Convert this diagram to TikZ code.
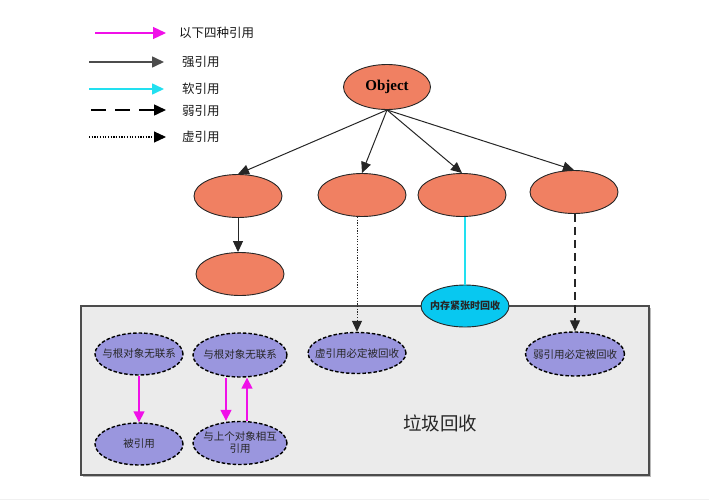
\documentclass[tikz,border=0pt]{standalone}
\usepackage{fontspec}
\setmainfont{Liberation Serif}
\newfontfamily\cjk{Noto Sans CJK SC}
\usetikzlibrary{shapes.geometric,arrows.meta}
\definecolor{orangefill}{HTML}{F08062}
\definecolor{purpfill}{HTML}{9A96DE}
\definecolor{cyanfill}{HTML}{08C8F0}
\definecolor{cyanline}{HTML}{22E0F0}
\definecolor{magline}{HTML}{F010E8}
\definecolor{boxfill}{HTML}{EBEBEB}
\begin{document}
\begin{tikzpicture}[x=1pt,y=-1pt,
  orangeell/.style={ellipse, draw=black!85, fill=orangefill, minimum width=88pt, minimum height=43pt, inner sep=0pt, line width=0.9pt},
  purpell/.style={ellipse, draw=black, dash pattern=on 3.5pt off 2pt, fill=purpfill, line width=1.4pt, minimum width=88pt, minimum height=42pt, inner sep=-15pt, align=center, font=\cjk\fontsize{10.5}{12}\selectfont, text=black!85},
  blackarr/.style={-{Triangle[length=11pt,width=10pt]}, line width=1pt, draw=black!85},
  magarr/.style={-{Triangle[length=11pt,width=11pt]}, line width=1.5pt, draw=magline, color=magline},
  legtext/.style={anchor=west, font=\cjk\fontsize{12.5}{14}\selectfont, text=black!90, inner sep=0pt}
]
\useasboundingbox (0,0) rectangle (709,501);
\draw[gray!12, line width=0.8pt] (0,499) -- (709,499);

% legend
\coordinate (l1a) at (95,33);  \coordinate (l1b) at (166,33);
\coordinate (l2a) at (89,62);  \coordinate (l2b) at (164,62);
\coordinate (l3a) at (89,89);  \coordinate (l3b) at (164,89);
\coordinate (l4a) at (91,110); \coordinate (l4b) at (166,110);
\coordinate (l5a) at (89,137); \coordinate (l5b) at (166,137);
\draw[-{Triangle[length=13pt,width=12pt]}, line width=1.3pt, magline] (l1a) -- (l1b);
\draw[-{Triangle[length=12pt,width=11pt]}, line width=1.6pt, black!70] (l2a) -- (l2b);
\draw[-{Triangle[length=12pt,width=11pt]}, line width=1.6pt, cyanline] (l3a) -- (l3b);
\draw[-{Triangle[length=12pt,width=11pt]}, line width=1.5pt, black, dash pattern=on 15pt off 9pt] (l4a) -- (l4b);
\draw[-{Triangle[length=12pt,width=11pt]}, line width=1.1pt, black, dash pattern=on 1.2pt off 1.5pt] (l5a) -- (l5b);
\node[legtext] (t1) at (179,33) {以下四种引用};
\node[legtext] (t2) at (182,62) {强引用};
\node[legtext] (t3) at (182,89) {软引用};
\node[legtext] (t4) at (182,111) {弱引用};
\node[legtext] (t5) at (182,137) {虚引用};

% garbage box
\fill[gray!55] (83,308) rectangle (651,477);
\draw[fill=boxfill, draw=black!70, line width=1.5pt] (81,306) rectangle (649,475);
\node[font=\cjk\fontsize{18.5}{20}\selectfont, text=black!85] (gc) at (440,423) {垃圾回收};

% tree
\node[orangeell, minimum width=87pt, minimum height=45pt, font=\bfseries\fontsize{15}{17}\selectfont] (obj) at (387,87) {Object};
\node[orangeell] (e1) at (238,196) {};
\node[orangeell] (e2) at (362,195) {};
\node[orangeell] (e3) at (462,195) {};
\node[orangeell] (e4) at (574,192) {};
\node[orangeell] (e5) at (240,274) {};

\draw[blackarr] (obj.south) -- (e1.north);
\draw[blackarr] (obj.south) -- (e2.north);
\draw[blackarr] (obj.south) -- (e3.north);
\draw[blackarr] (obj.south) -- (e4.north);
\draw[blackarr] (e1.south) -- (e1.south |- e5.north);

% purple nodes
\node[purpell] (p1) at (139,354) {与根对象无联系};
\node[purpell, minimum width=94pt, minimum height=44pt] (p2) at (240,355) {与根对象无联系};
\node[purpell] (p3) at (139,444) {被引用};
\node[purpell, minimum width=94pt, minimum height=43pt] (p4) at (240,443) {与上个对象相互\\引用};
\node[purpell, minimum width=98pt, minimum height=41pt] (p5) at (357,353) {虚引用必定被回收};
\node[purpell, minimum width=99pt, minimum height=44pt] (p6) at (575,354) {弱引用必定被回收};

% cyan node
\node[ellipse, draw=black!85, fill=cyanfill, line width=0.9pt, minimum width=88pt, minimum height=42pt, inner sep=-15pt, font=\cjk\bfseries\fontsize{10}{11}\selectfont, text=black!85] (c1) at (465,306) {内存紧张时回收};

\draw[cyanline, line width=1.5pt] (c1.north |- e3.south) -- (c1.north);
\draw[blackarr, dash pattern=on 1.2pt off 1.5pt] (p5.north |- e2.south) -- (p5.north);
\draw[blackarr, dash pattern=on 8pt off 5pt, line width=1.2pt] (p6.north |- e4.south) -- (p6.north);

\draw[magarr] (p1.south) -- (p3.north);
\draw[magarr] ([xshift=-14pt]p2.south) -- ([xshift=-14pt]p4.north);
\draw[magarr] ([xshift=7pt]p4.north) -- ([xshift=7pt]p2.south);
\end{tikzpicture}
\end{document}
